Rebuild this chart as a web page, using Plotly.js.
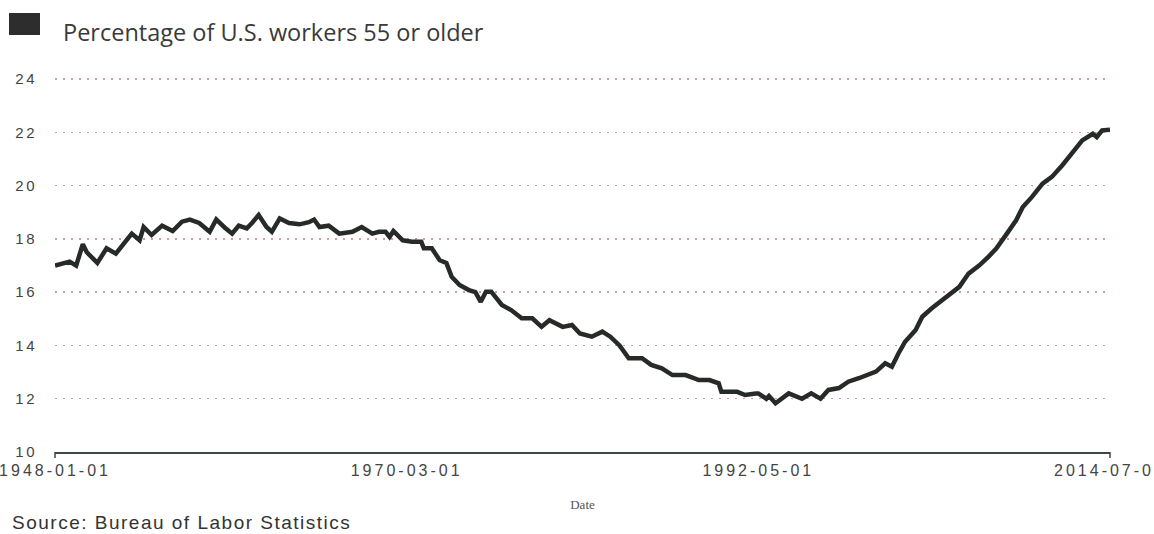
<!DOCTYPE html>
<html>
<head>
<meta charset="utf-8">
<script src="https://cdn.plot.ly/plotly-3.0.1.min.js"></script>
<style>
  html, body { margin: 0; padding: 0; background: #fff; }
  #chart { width: 1154px; height: 534px; }
  .xtick text { letter-spacing: 3px; }
  .ytick text { letter-spacing: 2.5px; }
  .annotation-text { letter-spacing: 1.5px; }
</style>
</head>
<body>
<div id="chart"></div>
<script>
const dates = ['1948-01','1948-12','1949-05','1949-10','1950-01','1950-09','1951-04','1951-11','1952-07','1952-11',
'1953-05','1953-08','1954-02','1954-10','1955-06','1956-01','1956-07','1957-02','1957-10','1958-03',
'1958-10','1959-03','1959-08','1960-02','1960-06','1960-11','1961-05','1961-09','1962-03','1962-10',
'1963-06','1964-01','1964-05','1964-09','1965-04','1965-12','1966-10','1967-05','1968-01','1968-06',
'1968-11','1969-02','1969-05','1969-12','1970-07','1971-02','1971-04','1971-10','1972-04','1972-09',
'1973-01','1973-07','1974-02','1974-07','1974-11','1975-03','1975-07','1976-03','1976-10','1977-06',
'1978-02','1978-09','1979-03','1980-01','1980-08','1981-02','1981-11','1982-07','1983-01','1983-08',
'1984-03','1985-01','1985-08','1986-04','1986-12','1987-10','1988-08','1989-04','1989-11','1990-01',
'1991-01','1991-07','1992-03','1992-05','1992-11','1993-01','1993-06','1994-04','1995-02','1995-09',
'1996-04','1996-10','1997-06','1998-01','1998-09','1999-04','1999-10','2000-05','2000-10','2001-03',
'2001-08','2002-04','2002-09','2003-04','2003-12','2004-05','2005-01','2005-08','2006-04','2006-11',
'2007-05','2008-01','2008-08','2009-01','2009-08','2010-04','2010-11','2011-07','2012-02','2012-10',
'2013-06','2013-09','2014-01','2014-07'];

const pctWorkers55Plus = [17.0,17.15,17.0,17.8,17.5,17.1,17.65,17.45,17.95,18.2,
17.95,18.45,18.15,18.5,18.3,18.65,18.73,18.6,18.27,18.73,
18.4,18.2,18.5,18.4,18.6,18.9,18.45,18.27,18.77,18.6,
18.55,18.63,18.73,18.45,18.5,18.2,18.27,18.45,18.2,18.27,
18.27,18.08,18.3,17.95,17.9,17.9,17.65,17.65,17.2,17.1,
16.58,16.27,16.08,16.0,15.64,16.02,16.02,15.52,15.33,15.02,
15.02,14.7,14.95,14.7,14.77,14.45,14.33,14.52,14.33,14.0,
13.52,13.52,13.27,13.14,12.89,12.89,12.7,12.7,12.58,12.26,
12.26,12.14,12.2,12.2,12.0,12.1,11.83,12.2,12.0,12.2,
12.0,12.33,12.4,12.64,12.77,12.89,13.02,13.33,13.2,13.7,
14.14,14.58,15.08,15.39,15.7,15.9,16.2,16.7,17.0,17.33,
17.64,18.2,18.7,19.2,19.58,20.08,20.33,20.77,21.2,21.7,
21.95,21.83,22.08,22.1];

const xTickVals = ['1948-01-01','1970-03-01','1992-05-01','2014-07-01'];
const xTickText = ['1948-01-01','1970-03-01','1992-05-01','2014-07-01'];
const yTickVals = [10,12,14,16,18,20,22,24];

const trace = {
  x: dates.map(d => d + '-01'),
  y: pctWorkers55Plus,
  type: 'scatter',
  mode: 'lines',
  name: 'Percentage of U.S. workers 55 or older',
  line: { color: '#262b28', width: 4.5 },
  hoverinfo: 'x+y'
};

const layout = {
  width: 1154,
  height: 534,
  margin: { l: 55, r: 44, t: 76, b: 82 },
  paper_bgcolor: '#ffffff',
  plot_bgcolor: '#ffffff',
  showlegend: false,
  title: {
    text: 'Percentage of U.S. workers 55 or older',
    font: { family: 'Open Sans', size: 23.5, color: '#3a3a3a' },
    xref: 'container', yref: 'container',
    x: 63 / 1154, xanchor: 'left',
    y: 1 - 33 / 534, yanchor: 'middle'
  },
  xaxis: {
    type: 'date',
    range: ['1947-12-31', '2014-07-02'],
    tickmode: 'array',
    tickvals: xTickVals,
    ticktext: xTickText,
    ticks: 'outside',
    ticklen: 3,
    tickcolor: 'rgba(0,0,0,0)',
    ticklabeloverflow: 'allow',
    showgrid: false,
    zeroline: false,
    showline: true,
    linecolor: '#3d4a42',
    linewidth: 1.5,
    tickfont: { family: 'Liberation Sans, Arial, sans-serif', size: 16, color: '#444' },
    title: {
      text: 'Date',
      font: { family: 'Liberation Serif, Times New Roman, serif', size: 13, color: '#555' },
      standoff: 22
    },
    fixedrange: true
  },
  yaxis: {
    range: [10, 24.12],
    tickmode: 'array',
    tickvals: yTickVals,
    ticks: 'outside',
    ticklen: 14,
    tickcolor: 'rgba(0,0,0,0)',
    showgrid: true,
    gridcolor: '#d89a9a',
    gridwidth: 1.5,
    griddash: '2px,6px',
    zeroline: false,
    showline: false,
    tickfont: { family: 'Liberation Sans, Arial, sans-serif', size: 15, color: '#444' },
    fixedrange: true
  },
  shapes: [
    { type: 'rect', xref: 'paper', yref: 'paper',
      x0: (9 - 55) / 1055, x1: (40 - 55) / 1055,
      y0: 1 + (76 - 35) / 376, y1: 1 + (76 - 13) / 376,
      fillcolor: '#2d2d2d', line: { width: 0 } },
    { type: 'line', xref: 'paper', yref: 'paper', x0: 0, x1: 0,
      ysizemode: 'pixel', yanchor: 0, y0: 0, y1: -6,
      line: { color: '#3d4a42', width: 1.5 } },
    { type: 'line', xref: 'paper', yref: 'paper', x0: 1, x1: 1,
      ysizemode: 'pixel', yanchor: 0, y0: 0, y1: -6,
      line: { color: '#3d4a42', width: 1.5 } }
  ],
  annotations: [
    { text: 'Source: Bureau of Labor Statistics',
      xref: 'paper', yref: 'paper', x: 0, y: 0,
      xanchor: 'left', yanchor: 'middle',
      xshift: -45, yshift: -70, showarrow: false,
      font: { family: 'Liberation Sans, Arial, sans-serif', size: 19, color: '#333' } }
  ]
};

Plotly.newPlot('chart', [trace], layout, { displayModeBar: false, staticPlot: true });
</script>
</body>
</html>
